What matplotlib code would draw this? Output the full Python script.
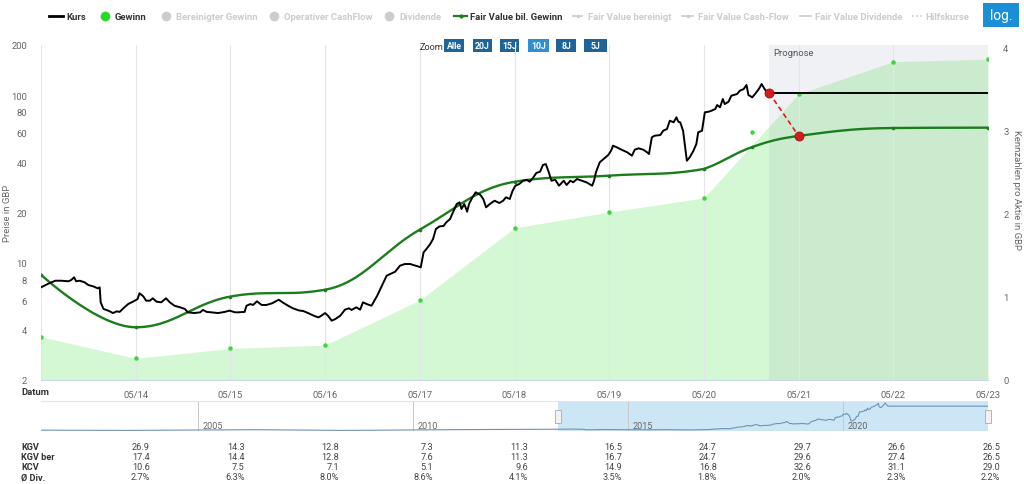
import matplotlib
matplotlib.use('Agg')
import matplotlib.pyplot as plt
import numpy as np
from matplotlib.lines import Line2D
from matplotlib.patches import Rectangle

plt.rcParams['font.family'] = ['Roboto', 'DejaVu Sans']

# ==================== Daten ====================
# Kurs (Jahr als Dezimalzahl, Preis in GBP)
KURS = [
    (2013.37, 7.15), (2013.44, 7.48), (2013.52, 7.83), (2013.58, 7.83), (2013.66, 7.77), (2013.69, 7.91),
    (2013.72, 8.21), (2013.74, 7.77), (2013.78, 7.83), (2013.83, 7.66), (2013.87, 7.38), (2013.92, 7.25),
    (2013.97, 7.05), (2013.99, 7.15), (2014.00, 5.82), (2014.03, 5.31), (2014.08, 5.19), (2014.13, 5.02),
    (2014.17, 5.14), (2014.20, 5.10), (2014.24, 5.36), (2014.29, 5.68), (2014.36, 5.95), (2014.39, 6.09),
    (2014.41, 6.59), (2014.45, 6.32), (2014.48, 5.95), (2014.52, 5.95), (2014.55, 6.15), (2014.59, 5.87),
    (2014.64, 5.82), (2014.69, 6.15), (2014.73, 5.82), (2014.78, 5.55), (2014.84, 5.43), (2014.89, 5.31),
    (2014.92, 5.07), (2014.99, 5.02), (2015.05, 5.07), (2015.08, 5.24), (2015.12, 5.10), (2015.17, 5.07),
    (2015.24, 5.02), (2015.31, 5.10), (2015.36, 5.19), (2015.42, 5.07), (2015.45, 5.07), (2015.52, 5.10),
    (2015.54, 5.55), (2015.58, 5.68), (2015.61, 5.61), (2015.65, 5.90), (2015.70, 5.61), (2015.75, 5.61),
    (2015.81, 5.74), (2015.88, 6.03), (2015.93, 5.77), (2015.98, 5.55), (2016.03, 5.36), (2016.09, 5.21),
    (2016.14, 5.16), (2016.19, 5.02), (2016.25, 4.84), (2016.30, 4.73), (2016.33, 4.84), (2016.37, 5.02),
    (2016.40, 4.84), (2016.44, 4.52), (2016.48, 4.63), (2016.53, 4.84), (2016.58, 5.26), (2016.62, 5.36),
    (2016.65, 5.24), (2016.70, 5.43), (2016.74, 5.26), (2016.77, 5.82), (2016.81, 5.68), (2016.86, 5.55),
    (2016.92, 6.37), (2016.97, 7.31), (2017.02, 8.39), (2017.06, 8.59), (2017.11, 8.86), (2017.16, 9.62),
    (2017.21, 9.85), (2017.27, 9.85), (2017.30, 9.72), (2017.35, 9.54), (2017.38, 9.41), (2017.41, 11.57),
    (2017.44, 12.11), (2017.48, 12.97), (2017.51, 13.90), (2017.54, 15.94), (2017.58, 16.54), (2017.62, 16.6),
    (2017.65, 17.48), (2017.69, 18.29), (2017.72, 20.06), (2017.76, 22.48), (2017.79, 23.01), (2017.81, 20.98),
    (2017.84, 22.48), (2017.87, 20.22), (2017.89, 22.48), (2017.92, 24.31), (2017.96, 26.41), (2018.01, 25.44),
    (2018.04, 24.08), (2018.07, 21.48), (2018.11, 22.48), (2018.16, 23.52), (2018.21, 22.79), (2018.25, 23.52),
    (2018.28, 24.65), (2018.32, 24.08), (2018.35, 26.98), (2018.38, 28.91), (2018.42, 29.59), (2018.46, 30.96),
    (2018.50, 31.39), (2018.53, 30.54), (2018.57, 32.44), (2018.60, 34.42), (2018.64, 35.05), (2018.67, 38.41),
    (2018.70, 38.95), (2018.73, 35.05), (2018.76, 30.96), (2018.80, 31.39), (2018.84, 28.91), (2018.89, 30.96),
    (2018.92, 29.19), (2018.96, 30.96), (2018.99, 30.29), (2019.03, 31.70), (2019.08, 30.96), (2019.13, 30.29),
    (2019.19, 28.91), (2019.21, 30.96), (2019.23, 34.75), (2019.27, 39.87), (2019.31, 41.72), (2019.36, 44.09),
    (2019.39, 46.77), (2019.41, 50.10), (2019.45, 49.01), (2019.50, 47.42), (2019.56, 45.76), (2019.61, 43.67),
    (2019.64, 47.42), (2019.68, 48.33), (2019.73, 47.42), (2019.77, 45.76), (2019.79, 44.69), (2019.82, 56.22),
    (2019.85, 57.47), (2019.91, 58.03), (2019.94, 61.55), (2019.98, 63.02), (2020.01, 70.63), (2020.05, 69.10),
    (2020.08, 74.01), (2020.10, 69.67), (2020.12, 69.10), (2020.15, 61.55), (2020.17, 50.10), (2020.19, 40.75),
    (2020.22, 42.70), (2020.26, 46.77), (2020.29, 51.28), (2020.31, 60.22), (2020.35, 61.55), (2020.38, 79.28),
    (2020.42, 79.93), (2020.45, 81.03), (2020.49, 82.96), (2020.51, 87.65), (2020.54, 84.92), (2020.57, 95.19),
    (2020.59, 88.85), (2020.63, 91.71), (2020.66, 99.61), (2020.72, 101.95), (2020.75, 106.7), (2020.79, 109.2),
    (2020.82, 115.4), (2020.84, 100.6), (2020.88, 97.4), (2020.91, 101.95), (2020.95, 109.2), (2020.98, 117.0),
    (2021.00, 111.8), (2021.03, 105.2), (2021.06, 103.4),
]
KURS_END = 2023.37          # Kurs-Linie im Prognosebereich flach bis hier

# Gewinn pro Aktie (rechte Achse)
GEWINN_T = [2013.37, 2014.37, 2015.37, 2016.37, 2017.37, 2018.37, 2019.37, 2020.37, 2021.37, 2022.37, 2023.37]
GEWINN_V = [0.52, 0.26, 0.38, 0.42, 0.96, 1.83, 2.02, 2.19, 3.44, 3.83, 3.86]
GEWINN_EXTRA = (2020.88, 2.98)

# Fair Value bil. Gewinn (linke Achse)
FV_T = [2013.37, 2014.37, 2015.37, 2016.37, 2017.37, 2018.37, 2019.37, 2020.37, 2020.88, 2021.37, 2022.37, 2023.37]
FV_V = [8.5, 4.13, 6.3, 6.92, 15.8, 30.5, 33.2, 36.4, 49.2, 57.3, 63.9, 64.2]

# Navigator: Kurs vor dem Zoom-Bereich (grob geschätzt)
NAV_EARLY_T = [2001.35, 2002.35, 2003.35, 2004.35, 2005.35, 2006.35, 2007.35, 2008.35, 2009.35, 2010.35, 2011.35, 2012.35]
NAV_EARLY_P = [3.5, 3.0, 2.5, 3.5, 4.5, 5.5, 4.0, 2.5, 3.5, 5.0, 6.0, 6.5]
NAV_YEARS = [2005, 2010, 2015, 2020]

X_TICKS = [2014.37, 2015.37, 2016.37, 2017.37, 2018.37, 2019.37, 2020.37, 2021.37, 2022.37, 2023.37]
X_LABELS = ['05/14', '05/15', '05/16', '05/17', '05/18', '05/19', '05/20', '05/21', '05/22', '05/23']
Y_TICKS = [2, 4, 6, 8, 10, 20, 40, 60, 80, 100, 200]

TABLE_ROWS = ['KGV', 'KGV ber', 'KCV', 'Ø Div.']
KGV = ['26.9', '14.3', '12.8', '7.3', '11.3', '16.5', '24.7', '29.7', '26.6', '26.5']
KGV_BER = ['17.4', '14.4', '12.8', '7.6', '11.3', '16.7', '24.7', '29.6', '27.4', '26.5']
KCV = ['10.6', '7.5', '7.1', '5.1', '9.6', '14.9', '16.8', '32.6', '31.1', '29.0']
DIV = ['2.7%', '6.3%', '8.0%', '8.6%', '4.1%', '3.5%', '1.8%', '2.0%', '2.3%', '2.2%']

ZOOM_BUTTONS = ['Alle', '20J', '15J', '10J', '8J', '5J']
# ==================================================

W, H = 1024, 485
GREY = '#666666'
LEGEND_GREY = '#cccccc'


def fx(x):
    return x / W


def fy(y):
    return 1 - y / H


def spline(xs, ys, smoothing=1.5, steps=30):
    """Highcharts-artige Spline (kubische Bezier), ys im log-Raum"""
    n = len(xs)
    lc = [[x, y] for x, y in zip(xs, ys)]
    rc = [[x, y] for x, y in zip(xs, ys)]
    d = smoothing + 1
    for i in range(1, n - 1):
        lx, ly = xs[i - 1], ys[i - 1]
        nx, ny = xs[i + 1], ys[i + 1]
        px, py = xs[i], ys[i]
        lcx = (smoothing * px + lx) / d
        lcy = (smoothing * py + ly) / d
        rcx = (smoothing * px + nx) / d
        rcy = (smoothing * py + ny) / d
        corr = ((rcy - lcy) * (rcx - px)) / (rcx - lcx) + py - rcy
        lcy += corr
        rcy += corr
        if lcy > ly and lcy > py:
            lcy = max(ly, py); rcy = 2 * py - lcy
        elif lcy < ly and lcy < py:
            lcy = min(ly, py); rcy = 2 * py - lcy
        if rcy > ny and rcy > py:
            rcy = max(ny, py); lcy = 2 * py - rcy
        elif rcy < ny and rcy < py:
            rcy = min(ny, py); lcy = 2 * py - rcy
        lc[i] = [lcx, lcy]
        rc[i] = [rcx, rcy]
    out_x, out_y = [xs[0]], [ys[0]]
    t = np.linspace(0, 1, steps)[1:]
    for i in range(1, n):
        p0 = (xs[i - 1], ys[i - 1]); c1 = rc[i - 1]; c2 = lc[i]; p3 = (xs[i], ys[i])
        bx = (1 - t) ** 3 * p0[0] + 3 * (1 - t) ** 2 * t * c1[0] + 3 * (1 - t) * t ** 2 * c2[0] + t ** 3 * p3[0]
        by = (1 - t) ** 3 * p0[1] + 3 * (1 - t) ** 2 * t * c1[1] + 3 * (1 - t) * t ** 2 * c2[1] + t ** 3 * p3[1]
        out_x.extend(bx); out_y.extend(by)
    return np.array(out_x), np.array(out_y)


def main():
    kt = [k[0] for k in KURS]
    kp = [k[1] for k in KURS]
    last_t, last_p = kt[-1], kp[-1]

    fig = plt.figure(figsize=(W / 100, H / 100), dpi=100)
    fig.patch.set_facecolor('white')

    # ---------- Hauptdiagramm ----------
    ax = fig.add_axes([fx(41), fy(381), (988 - 41) / W, (381 - 46) / H])
    ax2 = ax.twinx()
    ax.set_zorder(ax2.get_zorder() + 1)
    ax.patch.set_visible(False)
    ax2.patch.set_facecolor('#f5f7fc')

    # Gewinn-Fläche (rechte Achse)
    ax2.fill_between(GEWINN_T, 0, GEWINN_V, color='#d3f8d3', lw=0, zorder=1)
    ax2.set_ylim(0, 4.03)
    ax2.set_yticks([0, 1, 2, 3, 4])
    ax2.tick_params(axis='y', length=0, pad=11, labelsize=6.8, labelcolor=GREY)

    # Prognosebereich
    ax.axvspan(last_t, KURS_END, color='#98a0b6', alpha=0.14, lw=0, zorder=0.5)
    ax.text(last_t + 0.04, 180, 'Prognose', fontsize=6.8, color='#555555', va='center', ha='left', zorder=5)

    # vertikale Gitterlinien
    for xt in [2013.37] + X_TICKS:
        ax.axvline(xt, color='#e3e5ea', lw=0.8, zorder=0.8)

    # Gewinn-Punkte über Prognose-Fläche (auf linke Achse umgerechnet über Transformation)
    gtrans = ax2.transData
    ax.plot(GEWINN_T + [GEWINN_EXTRA[0]], GEWINN_V + [GEWINN_EXTRA[1]], 'o', color='#3ad63a', ms=3.2,
            mec='none', zorder=2, transform=gtrans)

    # Fair Value Linie
    sx, sy = spline(FV_T, list(np.log10(FV_V)))
    ax.plot(sx, 10 ** sy, color='#1b7d1b', lw=1.7, zorder=3)
    ax.plot(FV_T, FV_V, 'o', color='#1b7d1b', ms=2.6, mec='none', zorder=3)

    # Kurs
    ax.plot(kt, kp, color='black', lw=1.4, zorder=4)
    ax.plot([last_t, KURS_END], [last_p, last_p], color='black', lw=1.4, zorder=4)

    # rote Verbindung Kurs -> Fair Value
    fv_next = FV_V[FV_T.index(2021.37)]
    ax.plot([last_t, 2021.37], [last_p, fv_next], color='#e01b1b', lw=1.2, ls=(0, (3, 2)), zorder=5)
    ax.plot([last_t, 2021.37], [last_p, fv_next], 'o', color='#d41c1c', ms=6.5, mec='#a01010', mew=0.6, zorder=6)

    ax.set_yscale('log')
    ax.set_ylim(2, 200)
    ax.set_xlim(2013.37, 2023.37)
    ax.set_yticks(Y_TICKS)
    ax.set_yticklabels([str(v) for v in Y_TICKS])
    ax.yaxis.set_minor_locator(matplotlib.ticker.NullLocator())
    ax.set_xticks(X_TICKS)
    ax.set_xticklabels(X_LABELS)
    ax.tick_params(axis='both', length=0, labelsize=6.8, labelcolor=GREY)
    ax.tick_params(axis='y', pad=10)
    ax.tick_params(axis='x', pad=7)
    for a in (ax, ax2):
        for s in a.spines.values():
            s.set_visible(False)
    ax.spines['bottom'].set_visible(True)
    ax.spines['bottom'].set_color('#ccd6eb')
    ax.spines['bottom'].set_linewidth(0.8)

    fig.text(fx(8), fy(213), 'Preise in GBP', rotation=90, fontsize=6.8, color=GREY, ha='center', va='center')
    fig.text(fx(1016), fy(190), 'Kennzahlen pro Aktie in GBP', rotation=270, fontsize=6.8, color=GREY,
             ha='center', va='center')
    fig.text(fx(21), fy(393), 'Datum', fontsize=6.8, fontweight='bold', color='#333333', va='center', ha='left')

    # ---------- Navigator ----------
    nav = fig.add_axes([fx(41), fy(432), (988 - 41) / W, (432 - 402) / H])
    nav.set_xlim(2001.35, 2023.37)
    nav.set_ylim(0, 125)
    nav.axvspan(2013.37, 2023.37, color='#cde6f6', lw=0, zorder=0)
    for yr in NAV_YEARS:
        nav.axvline(yr, color='#c8c8c8', lw=0.7, zorder=1)
        nav.text(yr + 0.1, 22, str(yr), fontsize=6.5, color=GREY, va='center', ha='left')
    nav_t = NAV_EARLY_T + kt + [KURS_END]
    nav_p = NAV_EARLY_P + kp + [last_p]
    nav.plot(nav_t, nav_p, color='#6f92b5', lw=0.8, zorder=2)
    for s in nav.spines.values():
        s.set_visible(False)
    nav.axhline(125, color='#e4e4e4', lw=0.8)
    nav.axhline(0, color='#bbbbbb', lw=0.8)
    nav.set_xticks([]); nav.set_yticks([])
    for hx in (558, 988):
        fig.add_artist(Rectangle((fx(hx - 3), fy(424)), 6 / W, 13 / H, facecolor='#f2f2f2',
                                 edgecolor='#aaaaaa', lw=0.6))

    # ---------- Tabelle ----------
    rows = [KGV, KGV_BER, KCV, DIV]
    for r, (name, vals) in enumerate(zip(TABLE_ROWS, rows)):
        y = 448 + r * 10
        fig.text(fx(21), fy(y), name, fontsize=6.6, fontweight='bold', color='#333333', va='center', ha='left')
        for i, v in enumerate(vals):
            fig.text(fx(150 + 94.45 * i), fy(y), v, fontsize=6.6, color='#444444', va='center', ha='right')

    # ---------- Legende ----------
    ly = 17
    fig.add_artist(Line2D([fx(49), fx(63)], [fy(ly), fy(ly)], color='black', lw=2))
    fig.text(fx(66), fy(ly), 'Kurs', fontsize=6.8, fontweight='bold', color='#333333', va='center')
    fig.add_artist(Line2D([fx(105)], [fy(ly)], marker='o', ms=7, color='#22dd22', mec='none'))
    fig.text(fx(115), fy(ly), 'Gewinn', fontsize=6.8, fontweight='bold', color='#333333', va='center')
    for dx, label in [(166, 'Bereinigter Gewinn'), (274, 'Operativer CashFlow'), (389, 'Dividende')]:
        fig.add_artist(Line2D([fx(dx)], [fy(ly)], marker='o', ms=7, color=LEGEND_GREY, mec='none'))
        fig.text(fx(dx + 10), fy(ly), label, fontsize=6.8, fontweight='bold', color=LEGEND_GREY, va='center')
    fig.add_artist(Line2D([fx(454), fx(467)], [fy(ly), fy(ly)], color='#1b7d1b', lw=1.6))
    fig.add_artist(Line2D([fx(460.5)], [fy(ly)], marker='o', ms=3, color='#1b7d1b', mec='none'))
    fig.text(fx(470), fy(ly), 'Fair Value bil. Gewinn', fontsize=6.8, fontweight='bold', color='#333333',
             va='center')
    grey_lines = [(572, 'Fair Value bereinigt', (0, (3, 1.5))), (682, 'Fair Value Cash-Flow', '-'),
                  (800, 'Fair Value Dividende', '-'), (912, 'Hilfskurse', (0, (1, 1.5)))]
    for gx, label, ls in grey_lines:
        fig.add_artist(Line2D([fx(gx), fx(gx + 11)], [fy(ly), fy(ly)], color=LEGEND_GREY, lw=1.2, ls=ls))
        if label.startswith('Fair Value b') or label.startswith('Fair Value C'):
            fig.add_artist(Line2D([fx(gx + 5.5)], [fy(ly)], marker='o', ms=2.5, color=LEGEND_GREY, mec='none'))
        off = 16 if gx < 700 else (15 if gx == 800 else 13)
        fig.text(fx(gx + off), fy(ly), label, fontsize=6.8, fontweight='bold', color=LEGEND_GREY, va='center')

    # log.-Knopf
    fig.add_artist(Rectangle((fx(983), fy(28)), 36 / W, 24 / H, facecolor='#1a8fd6', edgecolor='none'))
    fig.text(fx(1001), fy(16), 'log.', fontsize=10, color='white', ha='center', va='center')

    # Zoom-Knöpfe
    fig.text(fx(420), fy(47), 'Zoom', fontsize=6.6, color='#333333', va='center', ha='left')
    bx = [444, 473, 500, 528, 556, 584]
    bw = [20, 19, 19, 21, 20, 23]
    for x0, w, label in zip(bx, bw, ZOOM_BUTTONS):
        col = '#2e8fd2' if label == '10J' else '#1e6499'
        fig.add_artist(Rectangle((fx(x0), fy(53)), w / W, 13 / H, facecolor=col, edgecolor='none'))
        fig.text(fx(x0 + w / 2), fy(46.5), label, fontsize=6.3, fontweight='bold', color='white',
                 ha='center', va='center')

    plt.savefig('out.png', dpi=100)


if __name__ == '__main__':
    main()
